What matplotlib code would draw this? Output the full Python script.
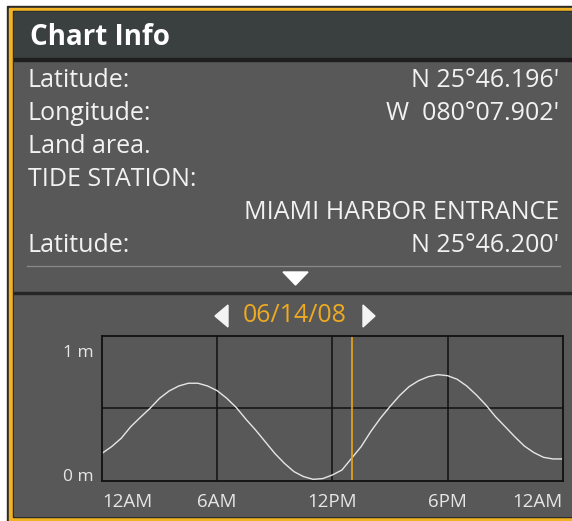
import matplotlib.pyplot as plt
from matplotlib.patches import Rectangle, Polygon

heures = [0, 0.5, 1, 1.5, 2, 2.5, 3, 3.5, 4, 4.5, 5, 5.5, 6, 6.5, 7, 7.5, 8, 8.5,
          9, 9.5, 10, 10.5, 11, 11.5, 12, 12.5, 13, 13.5, 14, 14.5, 15, 15.5, 16,
          16.5, 17, 17.5, 18, 18.5, 19, 19.5, 20, 20.5, 21, 21.5, 22, 22.5, 23,
          23.5, 24]
maree = [0.174, 0.228, 0.295, 0.389, 0.464, 0.536, 0.617, 0.676, 0.716, 0.738,
         0.738, 0.716, 0.678, 0.617, 0.542, 0.448, 0.362, 0.268, 0.174, 0.094,
         0.027, -0.013, -0.035, -0.029, 0.0, 0.040, 0.134, 0.228, 0.349, 0.456,
         0.550, 0.638, 0.711, 0.759, 0.791, 0.807, 0.799, 0.770, 0.716, 0.644,
         0.563, 0.469, 0.389, 0.308, 0.233, 0.180, 0.142, 0.129, 0.129]
heure_actuelle = 13
ticks_x = [0, 6, 12, 18, 24]
labels_x = ['12AM', '6AM', '12PM', '6PM', '12AM']
ticks_y = [0, 1]
labels_y = ['0 m', '1 m']
date = '06/14/08'
titre = 'Chart Info'
libelles = ['Latitude:', 'Longitude:', 'Land area.', 'TIDE STATION:', '', 'Latitude:']
valeurs = ["N 25°46.196'", "W  080°07.902'", '', '', 'MIAMI HARBOR ENTRANCE', "N 25°46.200'"]

plt.rcParams['font.family'] = ['Open Sans', 'DejaVu Sans']

W, H = 572, 521
fig = plt.figure(figsize=(W / 100, H / 100), dpi=100)
fig.patch.set_facecolor('white')

# Fond en coordonnees pixels
bg = fig.add_axes([0, 0, 1, 1])
bg.set_xlim(0, W)
bg.set_ylim(H, 0)
bg.axis('off')

jaune = '#f0b323'
gris = '#585858'
bg.add_patch(Rectangle((7, 6), W, H, color='#2a2a2a'))
bg.add_patch(Rectangle((9, 8), W, H, color=jaune))
bg.add_patch(Rectangle((13, 11), W, 506, color='#222222'))
bg.add_patch(Rectangle((14, 12), W, 504, color=gris))
bg.add_patch(Rectangle((14, 12), W, 46, color='#3a4040'))
bg.add_patch(Rectangle((14, 58), W, 2.5, color='#1e1e1e'))

bg.text(30, 45, titre, color='white', fontsize=20, fontweight='bold', va='baseline')

# lignes de texte (ligne de base en pixels)
lignes_y = [87, 120, 153, 186, 219, 252]
for y, lib, val in zip(lignes_y, libelles, valeurs):
    bg.text(28, y, lib, color='#f2f2f2', fontsize=18, va='baseline')
    bg.text(559, y, val, color='#f2f2f2', fontsize=18, va='baseline', ha='right')

# separateur et fleche
bg.plot([27, 560], [265.5, 265.5], color='#8a8a8a', lw=0.9)
bg.add_patch(Polygon([(283, 272), (308, 272), (295.5, 285)], color='white'))
bg.add_patch(Rectangle((14, 291.5), W, 2.5, color='#262626'))

bg.text(295, 316, date, color='#eeaa20', fontsize=18, ha='center', va='center')
bg.add_patch(Polygon([(215, 316), (228, 305), (228, 327)], color='#f4f4f4'))
bg.add_patch(Polygon([(375, 316), (363, 305), (363, 327)], color='#f4f4f4'))

# Graphique des marees
x0, x1, y0, y1 = 102, 562.7, 336, 480.7
ax = fig.add_axes([x0 / W, (H - y1) / H, (x1 - x0) / W, (y1 - y0) / H])
ax.set_facecolor(gris)
ymin, ymax = -0.046, 1.118
ax.set_xlim(0, 24)
ax.set_ylim(ymin, ymax)
for t in [6, 12, 18]:
    ax.axvline(t, color='#111111', lw=1.1)
ax.axhline((ymin + ymax) / 2, color='#111111', lw=1.1)
ax.plot(heures, maree, color='#e6e6e6', lw=1.0)
ax.axvline(heure_actuelle, color='#e0a020', lw=1.3)
for s in ax.spines.values():
    s.set_color('#111111')
    s.set_linewidth(1.3)

ax.set_xticks(ticks_x)
ax.set_xticklabels(labels_x)
ax.set_yticks(ticks_y)
ax.set_yticklabels(labels_y)
ax.tick_params(axis='x', length=0, pad=9, labelsize=13.5, colors='#e6e6e6')
ax.tick_params(axis='y', length=0, pad=6, labelsize=12.5, colors='#e6e6e6')
tl = ax.get_xticklabels()
tl[0].set_ha('left')
tl[-1].set_ha('right')

fig.savefig('out.png', dpi=100, facecolor=fig.get_facecolor())
